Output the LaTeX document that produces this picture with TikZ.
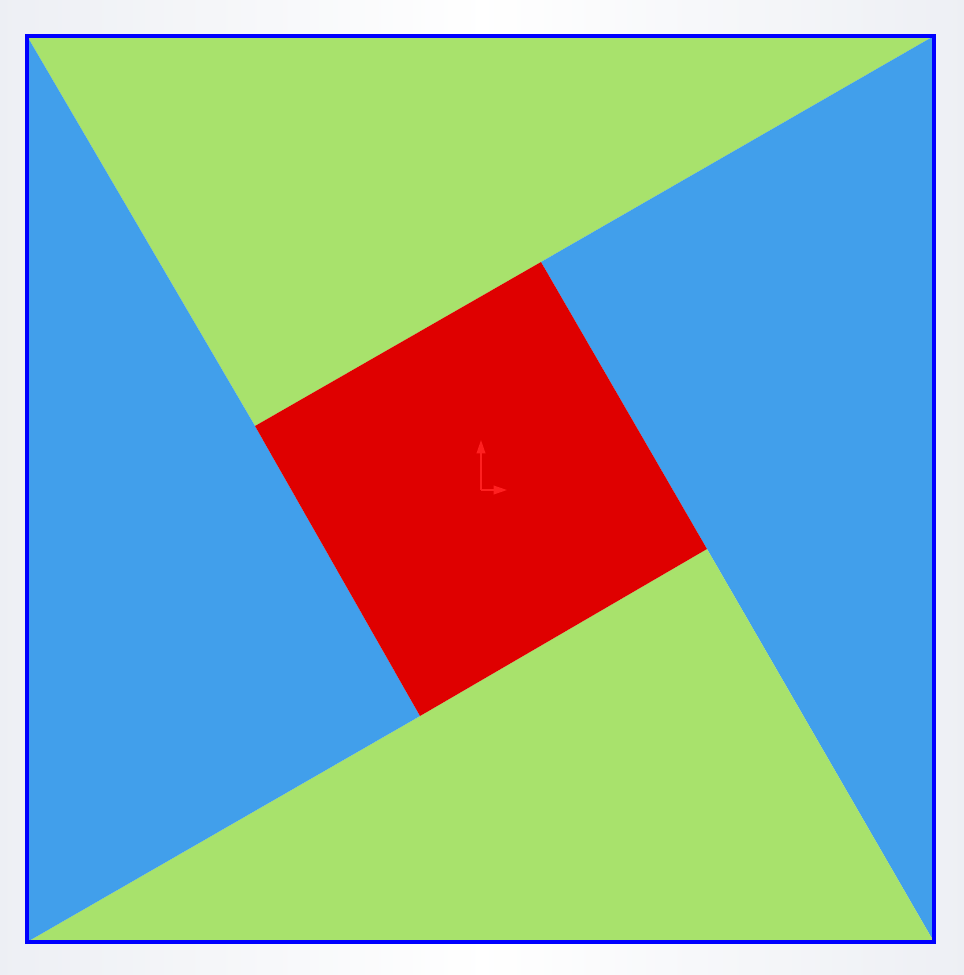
\documentclass[tikz,border=0pt]{standalone}
\usetikzlibrary{arrows.meta}
\definecolor{pgreen}{HTML}{A8E26C}
\definecolor{pblue}{HTML}{419FEB}
\definecolor{pred}{HTML}{DF0000}
\definecolor{axred}{HTML}{FF2020}
\definecolor{bgedge}{HTML}{DCE0EA}
\begin{document}
\begin{tikzpicture}[x=0.75pt,y=-0.75pt,
  face/.style={draw=none},
  frame/.style={draw={rgb,255:red,0;green,0;blue,255}, line width=2.6pt, line join=miter},
  axis/.style={draw=axred, line width=1.1pt, -{Triangle[length=10pt,width=6.5pt,fill=axred]}}]
\useasboundingbox (0,0) rectangle (964,975);
\shade[left color=bgedge, right color=bgedge, middle color=white, shading angle=90] (0,0) rectangle (964,975);
\fill[white, opacity=0.5] (0,0) rectangle (964,975);
\coordinate (A) at (27,36);
\coordinate (B) at (934,36);
\coordinate (C) at (934,942);
\coordinate (D) at (27,942);
\coordinate (P) at (541,262);
\coordinate (Q) at (707,549);
\coordinate (R) at (420,716);
\coordinate (S) at (255,426);
\fill[pgreen] (A) -- (B) -- (P) -- (S) -- cycle;
\fill[pblue] (B) -- (C) -- (Q) -- (P) -- cycle;
\fill[pgreen] (C) -- (D) -- (R) -- (Q) -- cycle;
\fill[pblue] (D) -- (A) -- (S) -- (R) -- cycle;
\fill[pred] (P) -- (Q) -- (R) -- (S) -- cycle;
\draw[frame] (A) rectangle (C);
\coordinate (O) at (481,490);
\coordinate (Oy) at (481,440);
\coordinate (Ox) at (507,490);
\draw[axis] (O) -- (Oy);
\draw[axis] (O) -- (Ox);
\end{tikzpicture}
\end{document}
